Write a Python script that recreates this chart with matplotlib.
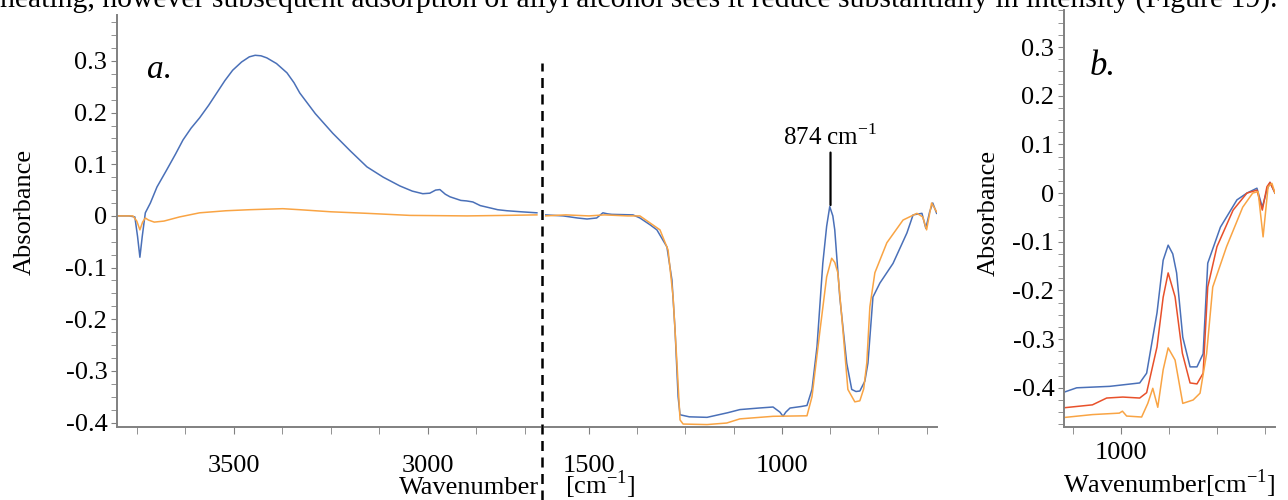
import matplotlib
matplotlib.use("Agg")
import matplotlib.pyplot as plt
from matplotlib.lines import Line2D
from matplotlib.ticker import MultipleLocator, FuncFormatter

plt.rcParams['font.family'] = ['Liberation Serif', 'DejaVu Serif']
plt.rcParams['mathtext.fontset'] = 'custom'
plt.rcParams['mathtext.rm'] = 'Liberation Serif'
plt.rcParams['axes.unicode_minus'] = False

# ---- data: panel a, high wavenumber part ----
a_hi_blue_wn = [3801, 3770, 3755, 3748, 3742, 3736, 3728, 3715, 3698, 3673, 3650, 3631,
                3610, 3588, 3565, 3544, 3523, 3503, 3480, 3460, 3445, 3430, 3415, 3390,
                3363, 3345, 3330, 3290, 3245, 3200, 3157, 3115, 3072, 3040, 3013, 2995,
                2980, 2969, 2955, 2943, 2915, 2900, 2884, 2865, 2848, 2820, 2796, 2760, 2719]
a_hi_blue = [0.000, 0.000, -0.002, -0.040, -0.080, -0.040, 0.006, 0.025, 0.056, 0.089, 0.120, 0.147,
             0.170, 0.190, 0.214, 0.238, 0.262, 0.282, 0.298, 0.308, 0.311, 0.310, 0.306, 0.295,
             0.277, 0.258, 0.238, 0.198, 0.160, 0.126, 0.095, 0.075, 0.058, 0.048, 0.043, 0.044,
             0.050, 0.051, 0.042, 0.037, 0.030, 0.029, 0.027, 0.020, 0.017, 0.012, 0.010, 0.008, 0.006]
a_hi_orange_wn = [3801, 3760, 3750, 3742, 3735, 3728, 3720, 3705, 3680, 3640, 3588, 3520,
                  3460, 3374, 3330, 3250, 3157, 3046, 2899, 2800, 2719]
a_hi_orange = [0.000, 0.000, -0.010, -0.027, -0.012, -0.004, -0.008, -0.012, -0.010, -0.002, 0.006, 0.010,
               0.012, 0.014, 0.012, 0.008, 0.005, 0.001, 0.000, 0.001, 0.002]

# ---- data: panel a, fingerprint part ----
a_lo_blue_wn = [1614, 1567, 1530, 1505, 1480, 1464, 1452, 1441, 1386, 1368, 1342, 1324, 1298,
                1285, 1277, 1269, 1264, 1240, 1194, 1170, 1140, 1109, 1060, 1023, 1005, 997,
                990, 979, 950, 935, 922, 909, 894, 884, 876, 868, 863, 850, 832, 819, 808, 798,
                785, 777, 764, 746, 712, 676, 660, 637, 627, 617, 609, 599]
a_lo_blue = [0.002, 0.000, -0.004, -0.006, -0.004, 0.006, 0.004, 0.003, 0.002, -0.004, -0.017, -0.027, -0.060,
             -0.124, -0.220, -0.350, -0.385, -0.389, -0.390, -0.386, -0.381, -0.375, -0.372, -0.370, -0.380, -0.388,
             -0.380, -0.372, -0.369, -0.367, -0.336, -0.253, -0.092, -0.020, 0.018, 0.000, -0.027, -0.157, -0.285, -0.336, -0.340, -0.339,
             -0.320, -0.285, -0.157, -0.130, -0.092, -0.033, 0.002, 0.005, -0.024, 0.008, 0.025, 0.005]
a_lo_orange_wn = [1614, 1560, 1500, 1460, 1400, 1368, 1316, 1295, 1282, 1272, 1264, 1256, 1194,
                  1143, 1109, 1023, 935, 922, 901, 884, 871, 863, 855, 842, 829, 811, 798, 788,
                  780, 772, 759, 728, 686, 650, 635, 625, 612, 599]
a_lo_orange = [0.000, 0.002, 0.000, 0.002, 0.000, 0.000, -0.027, -0.066, -0.157, -0.285, -0.395, -0.403, -0.404,
               -0.401, -0.393, -0.388, -0.387, -0.350, -0.220, -0.118, -0.082, -0.090, -0.110, -0.220, -0.336, -0.360, -0.358, -0.335,
               -0.285, -0.176, -0.110, -0.052, -0.008, 0.005, -0.002, -0.027, 0.025, 0.008]

# ---- data: panel b ----
b_blue_wn = [1148, 1115, 1029, 951, 933, 906, 890, 877, 865, 855, 839, 820, 802, 786, 774,
             741, 698, 672, 646, 632, 620, 612, 599]
b_blue = [-0.409, -0.400, -0.397, -0.390, -0.370, -0.246, -0.138, -0.107, -0.125, -0.164, -0.296, -0.357,
          -0.357, -0.330, -0.144, -0.070, -0.014, 0.000, 0.010, -0.029, 0.006, 0.022, 0.000]
b_red_wn = [1148, 1074, 1037, 995, 951, 933, 906, 890, 877, 859, 840, 820, 802, 786, 774,
            750, 708, 672, 646, 632, 620, 612, 599]
b_red = [-0.441, -0.435, -0.421, -0.419, -0.421, -0.410, -0.316, -0.214, -0.164, -0.213, -0.329, -0.390,
         -0.392, -0.370, -0.193, -0.110, -0.035, 0.000, 0.006, -0.035, 0.013, 0.022, 0.000]
b_orange_wn = [1148, 1074, 1004, 996, 985, 946, 930, 917, 904, 890, 877, 859, 839, 812, 794,
               777, 761, 725, 683, 657, 643, 630, 617, 607, 599]
b_orange = [-0.461, -0.455, -0.452, -0.448, -0.458, -0.460, -0.432, -0.401, -0.440, -0.363, -0.318, -0.343,
            -0.432, -0.425, -0.411, -0.330, -0.193, -0.110, -0.029, 0.000, 0.003, -0.090, 0.013, 0.020, 0.000]

BLUE = '#4a70b8'
ORANGE = '#f9a444'
RED = '#e8502a'
SPINE = '#808080'
W, H = 1288, 500


def box(x0, y0, x1, y1):
    # pixel box (top-left origin) -> figure fraction rect
    return [x0 / W, 1 - y1 / H, (x1 - x0) / W, (y1 - y0) / H]


def yfmt(v, pos):
    return '0' if abs(v) < 1e-9 else f'{v:.1f}'


def style(ax, left=True, xpad=18):
    for s in ['top', 'right']:
        ax.spines[s].set_visible(False)
    ax.spines['bottom'].set_color(SPINE)
    ax.spines['left'].set_color(SPINE)
    ax.spines['bottom'].set_linewidth(1.4)
    ax.spines['left'].set_linewidth(1.4)
    if not left:
        ax.spines['left'].set_visible(False)
        ax.set_yticks([])
    else:
        ax.yaxis.set_major_locator(MultipleLocator(0.1))
        ax.yaxis.set_minor_locator(MultipleLocator(0.025))
        ax.yaxis.set_major_formatter(FuncFormatter(yfmt))
        ax.tick_params(axis='y', which='both', length=4, color=SPINE, labelsize=19, pad=3)
    ax.xaxis.set_major_locator(MultipleLocator(500))
    ax.xaxis.set_minor_locator(MultipleLocator(125))
    ax.tick_params(axis='x', which='both', length=5, color=SPINE, labelsize=19, pad=xpad)
    ax.patch.set_alpha(0)


fig = plt.figure(figsize=(12.88, 5), dpi=100)

# cut-off line of body text above the figure
fig.text(0.0, 1 - 8 / H, 'heating, however subsequent adsorption of allyl alcohol sees it reduce '
         'substantially in intensity (Figure 19).', fontsize=21.3, ha='left', va='baseline')

# panel a, left part
ax1 = fig.add_axes(box(117, 15, 540, 427))
ax1.plot(a_hi_blue_wn, a_hi_blue, color=BLUE, lw=1.1)
ax1.plot(a_hi_orange_wn, a_hi_orange, color=ORANGE, lw=1.1)
ax1.set_xlim(3801, 2711)
ax1.set_ylim(-0.4087, 0.389)
style(ax1, left=True, xpad=15)
ax1.set_ylabel('Absorbance', fontsize=19)
ax1.yaxis.set_label_coords((36 - 117) / 423, 0.522)
ax1.text(0.07, 0.847, 'a.', transform=ax1.transAxes, fontsize=24, style='italic')

# panel a, right part
ax2 = fig.add_axes(box(545, 15, 937, 427))
ax2.plot(a_lo_blue_wn, a_lo_blue, color=BLUE, lw=1.1)
ax2.plot(a_lo_orange_wn, a_lo_orange, color=ORANGE, lw=1.1)
ax2.set_xlim(1614, 598)
ax2.set_ylim(-0.4087, 0.389)
style(ax2, left=False, xpad=15)
ax2.annotate('874 cm$^{\\mathregular{-1}}$', xy=(874, 0.021), xytext=(874, 0.128),
             ha='center', va='bottom', fontsize=18,
             arrowprops=dict(arrowstyle='-', color='black', lw=1.6, shrinkA=0, shrinkB=0))

# break marker between the two halves
fig.add_artist(Line2D([542 / W, 542 / W], [0, 1 - 63 / H], color='black', lw=1.8,
                      ls=(0, (4, 2.6))))
fig.text(399 / W, 1 - 494 / H, 'Wavenumber', fontsize=19, ha='left', va='baseline')
fig.text(565 / W, 1 - 494 / H, '[cm$^{\\mathregular{-1}}$]', fontsize=19, ha='left', va='baseline')

# panel b
ax3 = fig.add_axes(box(1064, 10, 1275, 427))
ax3.plot(b_blue_wn, b_blue, color=BLUE, lw=1.1)
ax3.plot(b_red_wn, b_red, color=RED, lw=1.1)
ax3.plot(b_orange_wn, b_orange, color=ORANGE, lw=1.1)
ax3.set_xlim(1148, 599)
ax3.set_ylim(-0.4805, 0.376)
style(ax3, left=True, xpad=6)
ax3.set_ylabel('Absorbance', fontsize=19)
ax3.yaxis.set_label_coords((1000 - 1064) / 211, 0.513)
ax3.set_xlabel('Wavenumber[cm$^{\\mathregular{-1}}$]', fontsize=19, labelpad=2)
ax3.text(0.12, 0.845, 'b.', transform=ax3.transAxes, fontsize=25, style='italic')

fig.savefig('out.png', dpi=100)
